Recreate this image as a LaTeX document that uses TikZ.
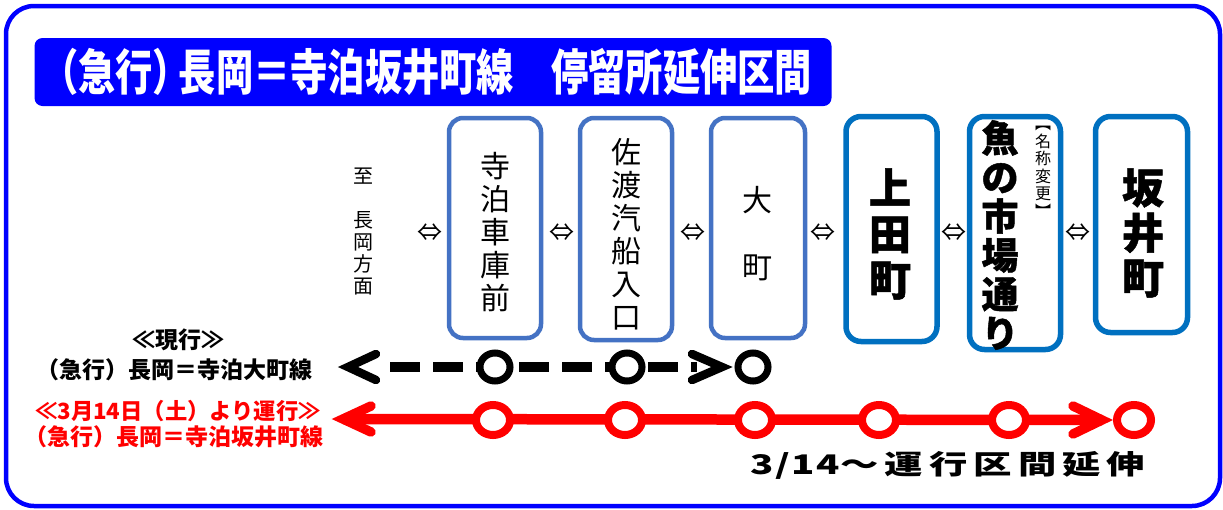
\documentclass[tikz,border=0pt]{standalone}
\usepackage{fontspec}
\setmainfont{DejaVu Sans}
\newfontfamily\jp{Noto Sans CJK JP}
\newfontfamily\jph[FakeBold=1.2]{Noto Sans CJK JP}
\newfontfamily\jpa[LetterSpace=4]{Noto Sans CJK JP}
\newfontfamily\jpb[LetterSpace=16]{Noto Sans CJK JP}
\usetikzlibrary{shapes.geometric}
\definecolor{frameblue}{RGB}{0,0,255}
\definecolor{boxA}{RGB}{68,114,196}
\definecolor{boxB}{RGB}{0,112,192}
\definecolor{lred}{RGB}{255,0,0}
\newcommand{\lp}{\kern-0.45em（}
\newcommand{\rp}{）\kern-0.3em}
\begin{document}
\begin{tikzpicture}[x=1pt,y=-1pt,
  stA/.style={draw=boxA, line width=4.5pt, rounded corners=14pt, minimum width=92pt, minimum height=220pt, inner sep=0pt},
  stB/.style={draw=boxB, line width=5.5pt, rounded corners=15pt, minimum width=91pt, inner sep=0pt},
  vthin/.style={align=center, inner sep=0pt, font=\jp\fontsize{30}{33}\selectfont},
  vbold/.style={align=center, inner sep=0pt},
  dbl/.style={inner sep=0pt, font=\jp\fontsize{25}{25}\selectfont},
  lab/.style={inner sep=0pt, font=\jp\bfseries\fontsize{23}{23}\selectfont},
  bc/.style={ellipse, draw=black, line width=7pt, fill=white, minimum width=30pt, minimum height=28pt, inner sep=0pt},
  rc/.style={ellipse, draw=lred, line width=8pt, fill=white, minimum width=34pt, minimum height=30pt, inner sep=0pt},
  chev/.style={line width=8.5pt, line cap=round, line join=miter}
]
\useasboundingbox (0,0) rectangle (1223,509);
\fill[white] (0,0) rectangle (1223,509);
% outer frame
\node[draw=frameblue, line width=4.5pt, rounded corners=28pt, minimum width=1214pt, minimum height=500pt, inner sep=0pt] (frame) at (613,256) {};
% title
\node[fill=frameblue, rounded corners=8pt, minimum width=797pt, minimum height=68pt, inner sep=0pt] (titlebox) at (433,72) {};
\node[text=white, inner sep=0pt, xscale=0.76, font=\jp\bfseries\fontsize{49}{49}\selectfont] (titletext) at (435,72) {\lp 急行\rp 長岡＝寺泊坂井町線　停留所延伸区間};
% direction label
\node[align=center, inner sep=0pt, font=\jp\fontsize{20}{22}\selectfont] (dir) at (363,232) {至\\\mbox{}\\長\\岡\\方\\面};
% station boxes
\node[stA] (s1) at (495,228) {};
\node[stA, minimum height=222pt] (s2) at (626,229) {};
\node[stA, minimum width=94pt] (s3) at (758,228) {};
\node[stB, minimum height=225pt] (s4) at (891.5,229) {};
\node[stB, minimum height=233pt] (s5) at (1015,233) {};
\node[stB, minimum height=216pt, minimum width=92pt] (s6) at (1141.5,224.5) {};
% station names
\node[vthin] (t1) at (495,232.5) {寺\\泊\\車\\庫\\前};
\node[vthin] (t2) at (626,234) {佐\\渡\\汽\\船\\入\\口};
\node[vthin, font=\jp\fontsize{30}{33.5}\selectfont] (t3) at (757,233.5) {大\\\mbox{}\\町};
\node[vbold, font=\jph\bfseries\fontsize{42}{46}\selectfont] (t4) at (890,234) {上\\田\\町};
\node[vbold, font=\jph\bfseries\fontsize{37}{39}\selectfont] (t5) at (1000,235) {魚\\の\\市\\場\\通\\り};
\node[align=center, inner sep=0pt, font=\jp\fontsize{16}{17.5}\selectfont] (t5n) at (1043,172) {︻\\名\\称\\変\\更\\︼};
\node[vbold, font=\jph\bfseries\fontsize{42}{45}\selectfont] (t6) at (1143,233) {坂\\井\\町};
% double arrows
\node[dbl] (d0) at (430,233) {⇔};
\node[dbl] (d1) at (562,233) {⇔};
\node[dbl] (d2) at (693,233) {⇔};
\node[dbl] (d3) at (823,233) {⇔};
\node[dbl] (d4) at (954,233) {⇔};
\node[dbl] (d5) at (1078,233) {⇔};
% labels
\node[lab] (l1) at (178,340) {≪現行≫};
\node[lab] (l2) at (180,370) {\lp 急行）長岡＝寺泊大町線};
\node[lab, text=lred, font=\jp\bfseries\fontsize{22.3}{23}\selectfont] (l3) at (178,411) {≪3月14日（土）より運行≫};
\node[lab, text=lred] (l4) at (179,437) {\lp 急行）長岡＝寺泊坂井町線};
% current line (black dashed)
\coordinate (bL) at (348,367);
\coordinate (bds) at (390,367);
\coordinate (bde) at (697,367);
\coordinate (bR) at (722,367);
\draw[black, line width=10pt, dash pattern=on 30pt off 13pt] (bds) -- (bde);
\draw[chev, black] ([shift={(28,-13)}]bL) -- (bL) -- ([shift={(28,13)}]bL);
\draw[chev, black] ([shift={(-30,-13)}]bR) -- (bR) -- ([shift={(-30,13)}]bR);
\node[bc] (b1) at (495,367) {};
\node[bc] (b2) at (627,367) {};
\node[bc] (b3) at (753,367) {};
% new line (red)
\coordinate (rL) at (343,419);
\coordinate (rR) at (1102,420);
\draw[lred, line width=10.5pt] (rL) -- (rR);
\draw[chev, lred, line width=9.5pt] ([shift={(28,-13)}]rL) -- (rL) -- ([shift={(28,13)}]rL);
\draw[chev, lred, line width=9.5pt] ([shift={(-29,-14)}]rR) -- (rR) -- ([shift={(-29,14)}]rR);
\node[rc] (r1) at (493,420) {};
\node[rc] (r2) at (625,420) {};
\node[rc] (r3) at (755,420) {};
\node[rc] (r4) at (879,420) {};
\node[rc] (r5) at (1009,420) {};
\node[rc] (r6) at (1134,420) {};
% caption
\node[inner sep=0pt, xscale=1.42, font=\bfseries\fontsize{27}{27}\selectfont] (cap) at (948,465) {{\jpa\bfseries 3/14}{\jpb\bfseries ～運行区間延伸}};
\end{tikzpicture}
\end{document}
